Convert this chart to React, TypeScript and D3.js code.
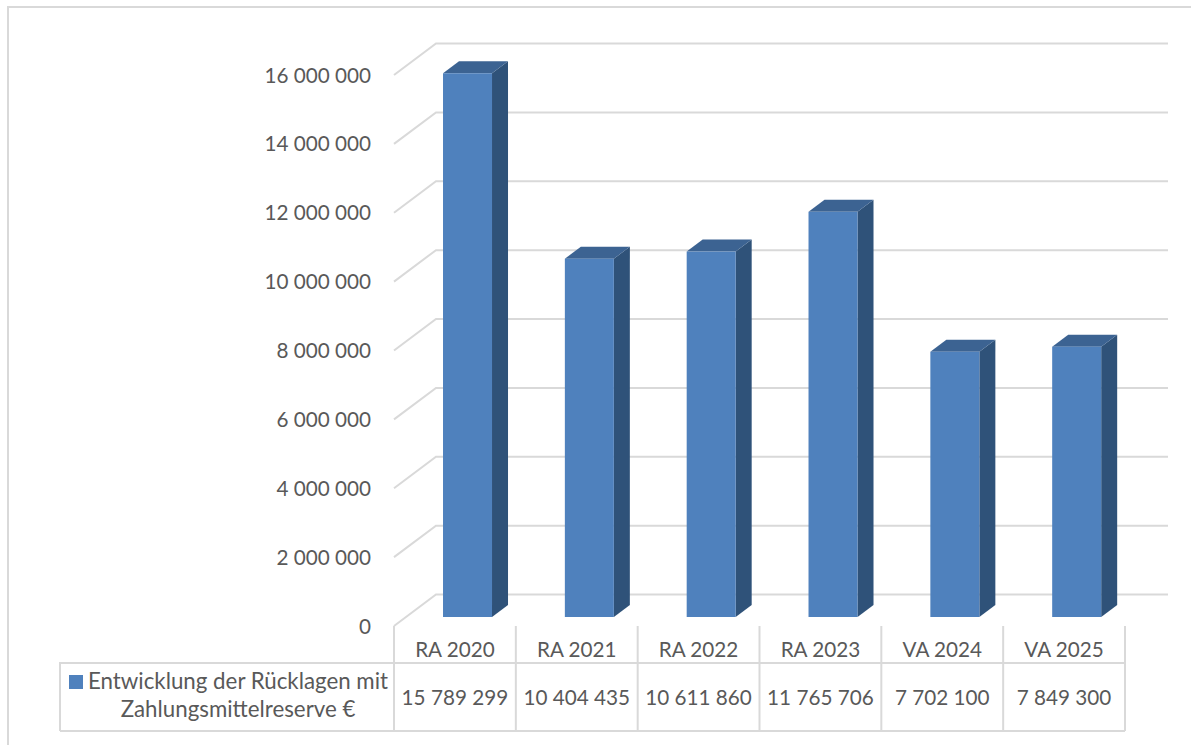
import React from "react";
import * as d3 from "d3";

const categories = ["RA 2020", "RA 2021", "RA 2022", "RA 2023", "VA 2024", "VA 2025"];
const values = [15789299, 10404435, 10611860, 11765706, 7702100, 7849300];
const valueLabels = ["15 789 299", "10 404 435", "10 611 860", "11 765 706", "7 702 100", "7 849 300"];
const ticks = [0, 2000000, 4000000, 6000000, 8000000, 10000000, 12000000, 14000000, 16000000];
const legendLines = ["Entwicklung der Rücklagen mit", "Zahlungsmittelreserve €"];

const W = 1191, H = 745;
const FONT = "Lato, 'Open Sans', sans-serif";
const TXT = "#595959", GRID = "#d9d9d9";
const x0 = 394, x1 = 1125, y0 = 626;
const depthX = 42, depthY = 31.5, backRight = 1168;
const barDx = 12.6, barDy = 9, sideDx = 16, sideDy = 12, barW = 49;
const tableTop = 663, tableBottom = 731, tableLeft = 60;

const x = d3.scaleBand<string>().domain(categories).range([x0, x1]);
const h = d3.scaleLinear().domain([0, 16000000]).range([0, 551]);
const fmt = (v: number) => d3.format(",")(v).replace(/,/g, " ");
const linePath = d3.line();

export default function App() {
  return (
    <svg width={W} height={H} style={{ position: "absolute", left: 0, top: 0, background: "#fff" }} fontFamily={FONT}>
      <path d={linePath([[8, H], [8, 7], [W, 7]])!} fill="none" stroke={GRID} strokeWidth={2} />
      {ticks.map((t) => {
        const y = y0 - h(t);
        return (
          <g key={t}>
            <path d={linePath([[x0, y], [x0 + depthX, y - depthY], [backRight, y - depthY]])!} fill="none" stroke={GRID} strokeWidth={2} />
            <text x={371} y={y + 7.5} textAnchor="end" fontSize={20.7} fill={TXT}>{fmt(t)}</text>
          </g>
        );
      })}
      {categories.map((c, i) => {
        const left = x(c)! + (x.bandwidth() - barW) / 2 + barDx;
        const bottom = y0 - barDy;
        const top = bottom - h(values[i]);
        return (
          <g key={c}>
            <path d={linePath([[left + barW, top], [left + barW + sideDx, top - sideDy], [left + barW + sideDx, bottom - sideDy], [left + barW, bottom]])! + "Z"} fill="#2f5279" />
            <path d={linePath([[left, top], [left + sideDx, top - sideDy], [left + barW + sideDx, top - sideDy], [left + barW, top]])! + "Z"} fill="#3c6392" />
            <rect x={left} y={top} width={barW} height={bottom - top} fill="#4f81bd" />
          </g>
        );
      })}
      <g fill="none" stroke={GRID} strokeWidth={2}>
        {[...categories.map((c) => x(c)!), x1].map((vx) => (
          <path key={vx} d={linePath([[vx, y0], [vx, tableBottom]])!} />
        ))}
        <path d={linePath([[tableLeft, tableBottom], [tableLeft, tableTop], [x1, tableTop]])!} />
        <path d={linePath([[tableLeft, tableBottom], [x1, tableBottom]])!} />
      </g>
      {categories.map((c, i) => (
        <g key={c} textAnchor="middle" fontSize={20.7} fill={TXT}>
          <text x={x(c)! + x.bandwidth() / 2} y={656.5}>{c}</text>
          <text x={x(c)! + x.bandwidth() / 2} y={704.5}>{valueLabels[i]}</text>
        </g>
      ))}
      <rect x={69} y={675} width={14} height={14} fill="#4f81bd" />
      <text x={88} y={689} fontSize={22.3} fill={TXT}>{legendLines[0]}</text>
      <text x={238} y={717} textAnchor="middle" fontSize={22.3} fill={TXT}>{legendLines[1]}</text>
    </svg>
  );
}
